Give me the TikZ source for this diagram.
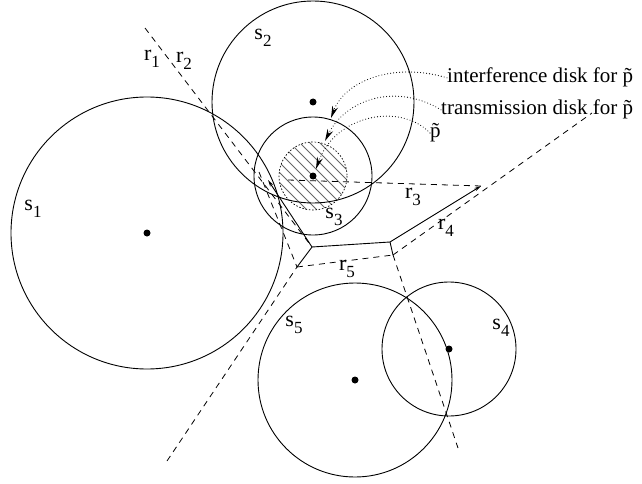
\documentclass[tikz,border=0pt]{standalone}
\usepackage{fontspec}
\setmainfont{Liberation Serif}
\usetikzlibrary{arrows.meta}
\newcommand{\idx}[2]{#1\raisebox{-0.32em}{\fontsize{17}{17}\selectfont #2}}

\begin{document}
\begin{tikzpicture}[
    x=1pt, y=-1pt,
    font=\fontsize{22}{26}\selectfont,
    disk/.style={line width=0.9pt},
    bis/.style={line width=0.8pt, dash pattern=on 6pt off 5pt},
    cell/.style={line width=0.9pt},
    tips/.style={{Stealth[length=7pt,width=3.5pt]}-{Stealth[length=7pt,width=3.5pt]}},
    ptr/.style={line width=1.1pt, line cap=round, dash pattern=on 0pt off 3pt,
                -{Stealth[length=12pt,width=6pt]}},
    hatch/.style={gray!80!black, line width=0.8pt},
    lbl/.style={inner sep=0pt},
    legend/.style={inner sep=0pt, anchor=base west, font=\fontsize{21}{25}\selectfont}
]
  \useasboundingbox (0,0) rectangle (642,484);

  % ================= disk for p~ (hatched) =================
  \begin{scope}
    \clip (313,176) circle[radius=34];
    \foreach \c in {-50,-40,...,50}
      \draw[hatch] (263+\c,126) -- (363+\c,226);
  \end{scope}
  \draw[line width=0.7pt, dash pattern=on 1.5pt off 1.8pt] (313,176) circle[radius=34];

  % ================= bisectors =================
  \draw[bis] (145,28) -- (312,247);
  \draw[bis] (259,172) -- (297,267);
  \draw[bis] (167,461) -- (297,267);
  \draw[bis] (297,267) -- (393,255);
  \draw[bis] (393,255) -- (458,448);
  \draw[bis] (393,255) -- (592,113);
  \draw[bis] (288,180) -- (481,186);

  % ================= cell =================
  \draw[cell, tips] (268,180) -- (312,247) -- (390,242) -- (481,186);
  \draw[cell] (312,247) -- (297,267);
  \draw[cell] (390,242) -- (393,255);

  % ================= sites =================
  \draw[disk] (147,233) circle[radius=136];
  \draw[disk] (313,102) circle[radius=101];
  \draw[disk] (313,176) circle[radius=59];
  \draw[disk] (355,380) circle[radius=97];
  \draw[disk] (449,349) circle[radius=67];
  \foreach \p in {(147,233),(313,102),(313,176),(355,380),(449,349)}
    \fill \p circle[radius=3.5];

  \node[lbl] (s1) at (33,209)  {\idx{s}{1}};
  \node[lbl] (s2) at (263,38)  {\idx{s}{2}};
  \node[lbl] (s3) at (334,217) {\idx{s}{3}};
  \node[lbl] (s4) at (501,328) {\idx{s}{4}};
  \node[lbl] (s5) at (294,325) {\idx{s}{5}};

  \node[lbl] (r1) at (152,59)  {\idx{r}{1}};
  \node[lbl] (r2) at (184,61)  {\idx{r}{2}};
  \node[lbl] (r3) at (413,197) {\idx{r}{3}};
  \node[lbl] (r4) at (446,228) {\idx{r}{4}};
  \node[lbl] (r5) at (347,269) {\idx{r}{5}};

  % ================= legend =================
  \coordinate (hitI) at (331,118);
  \coordinate (hitT) at (325,141);
  \coordinate (hitP) at (316,169);
  \node[legend] (interf) at (447,83)  {interference disk for \~{p}};
  \node[legend] (trans)  at (441,115) {transmission disk for \~{p}};
  \node[legend] (ptil)   at (430,138) {\~{p}};

  \draw[ptr] (interf.west) .. controls (395,62) and (345,80) .. (hitI);
  \draw[ptr] (trans.west) .. controls (395,82) and (345,100) .. (hitT);
  \draw[ptr] (ptil.west) .. controls (400,102) and (335,115) .. (hitP);

\end{tikzpicture}
\end{document}
